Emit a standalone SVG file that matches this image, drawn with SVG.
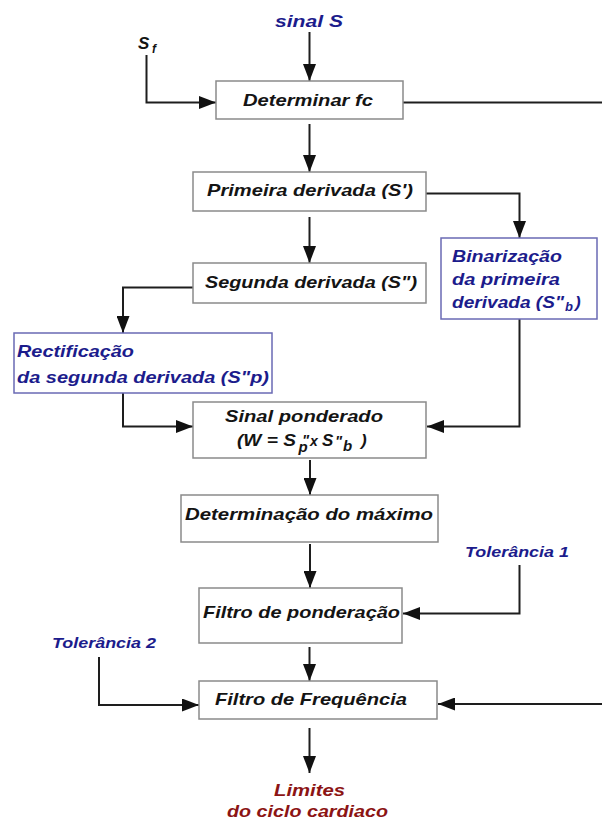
<svg xmlns="http://www.w3.org/2000/svg" width="602" height="823" viewBox="0 0 602 823">
  <style>
    text { font-family: "Liberation Sans", Arial, sans-serif; font-style: italic; font-weight: bold; }
    .t { font-size: 17px; fill: #141414; }
    .blue { fill: #1c1c8c; }
    .red { fill: #8c1414; }
    .small { font-size: 15px; }
    .box { fill: #ffffff; stroke: #8a8a8a; stroke-width: 1.5; }
    .bbox { fill: #ffffff; stroke: #6a6ab4; stroke-width: 1.5; }
    .wire { fill: none; stroke: #1e1e1e; stroke-width: 2; }
    .arrow { marker-end: url(#head); }
  </style>
  <defs>
    <marker id="head" markerUnits="userSpaceOnUse" markerWidth="17" markerHeight="13" refX="17" refY="6.5" orient="auto">
      <path d="M0,0 L17,6.5 L0,13 Z" fill="#111111"/>
    </marker>
  </defs>
  <rect width="602" height="823" fill="#ffffff"/>

  <!-- free-standing labels -->
  <g id="input-signal">
    <text class="t blue" x="275" y="27" textLength="68" lengthAdjust="spacingAndGlyphs">sinal S</text>
  </g>
  <g id="input-sf">
    <text class="t" x="138" y="49">S<tspan x="152" y="53" style="font-size:12px">f</tspan></text>
  </g>
  <g id="tolerance-1">
    <text class="t blue small" x="465" y="557" textLength="104" lengthAdjust="spacingAndGlyphs">Tolerância 1</text>
  </g>
  <g id="tolerance-2">
    <text class="t blue small" x="52" y="648" textLength="104" lengthAdjust="spacingAndGlyphs">Tolerância 2</text>
  </g>
  <g id="output-limits">
    <text class="t red" x="274" y="796" textLength="71" lengthAdjust="spacingAndGlyphs">Limites</text>
    <text class="t red" x="227" y="817" textLength="161" lengthAdjust="spacingAndGlyphs">do ciclo cardiaco</text>
  </g>

  <!-- connectors -->
  <g id="connectors">
    <path class="wire arrow" d="M309.5,32 V81"/>
    <path class="wire arrow" d="M146.5,55 V102.5 H216"/>
    <path class="wire" d="M403,102.5 H602"/>
    <path class="wire arrow" d="M309.5,124 V172"/>
    <path class="wire arrow" d="M426,193.5 H519.5 V238"/>
    <path class="wire arrow" d="M309.5,217 V263"/>
    <path class="wire arrow" d="M193,287.5 H123 V333"/>
    <path class="wire arrow" d="M123,393 V426.5 H193"/>
    <path class="wire arrow" d="M519.5,319 V426.5 H427"/>
    <path class="wire arrow" d="M310,460 V495"/>
    <path class="wire arrow" d="M310,544 V588"/>
    <path class="wire arrow" d="M519.5,565 V613.5 H403"/>
    <path class="wire arrow" d="M309.5,647 V681"/>
    <path class="wire arrow" d="M99,657 V705 H199"/>
    <path class="wire arrow" d="M602,704 H438"/>
    <path class="wire arrow" d="M309.5,728 V773"/>
  </g>

  <!-- processing blocks -->
  <g id="determinar-fc">
    <rect class="box" x="216" y="81" width="187" height="38"/>
    <text class="t" x="243" y="106" textLength="130" lengthAdjust="spacingAndGlyphs">Determinar fc</text>
  </g>
  <g id="primeira-derivada">
    <rect class="box" x="193" y="172" width="233" height="39"/>
    <text class="t" x="207" y="196" textLength="206" lengthAdjust="spacingAndGlyphs">Primeira derivada (S')</text>
  </g>
  <g id="binarizacao">
    <rect class="bbox" x="441" y="238" width="156" height="81"/>
    <text class="t blue" x="452" y="262" textLength="110" lengthAdjust="spacingAndGlyphs">Binarização</text>
    <text class="t blue" x="452" y="285" textLength="108" lengthAdjust="spacingAndGlyphs">da primeira</text>
    <text class="t blue" x="452" y="308" textLength="112" lengthAdjust="spacingAndGlyphs">derivada (S"</text>
    <text class="t blue" x="565" y="311" style="font-size:13px">b<tspan x="575" y="308" style="font-size:17px">)</tspan></text>
  </g>
  <g id="segunda-derivada">
    <rect class="box" x="193" y="263" width="233" height="40"/>
    <text class="t" x="205" y="288" textLength="212" lengthAdjust="spacingAndGlyphs">Segunda derivada (S")</text>
  </g>
  <g id="rectificacao">
    <rect class="bbox" x="14" y="333" width="258" height="60"/>
    <text class="t blue" x="17" y="357" textLength="117" lengthAdjust="spacingAndGlyphs">Rectificação</text>
    <text class="t blue" x="17" y="383" textLength="252" lengthAdjust="spacingAndGlyphs">da segunda derivada (S"p)</text>
  </g>
  <g id="sinal-ponderado">
    <rect class="box" x="193" y="402" width="233" height="56"/>
    <text class="t" x="225" y="422" textLength="158" lengthAdjust="spacingAndGlyphs">Sinal ponderado</text>
    <!-- W = S''p x S''b, with primes above the subscripts -->
    <text class="t" x="237" y="446" textLength="59" lengthAdjust="spacingAndGlyphs">(W = S</text>
    <text class="t" x="302" y="445" style="font-size:15px">"<tspan x="298.5" y="452">p</tspan><tspan x="310" y="446" style="font-size:14px">x</tspan><tspan x="322" y="446" style="font-size:17px">S</tspan><tspan x="335" y="446">"</tspan><tspan x="343" y="451">b</tspan><tspan x="361" y="446" style="font-size:17px">)</tspan></text>
  </g>
  <g id="determinacao-maximo">
    <rect class="box" x="181" y="495" width="257" height="47"/>
    <text class="t" x="185" y="520" textLength="248" lengthAdjust="spacingAndGlyphs">Determinação do máximo</text>
  </g>
  <g id="filtro-ponderacao">
    <rect class="box" x="199" y="588" width="203" height="55"/>
    <text class="t" x="203" y="618" textLength="197" lengthAdjust="spacingAndGlyphs">Filtro de ponderação</text>
  </g>
  <g id="filtro-frequencia">
    <rect class="box" x="199" y="681" width="238" height="38"/>
    <text class="t" x="215" y="705" textLength="192" lengthAdjust="spacingAndGlyphs">Filtro de Frequência</text>
  </g>
</svg>
